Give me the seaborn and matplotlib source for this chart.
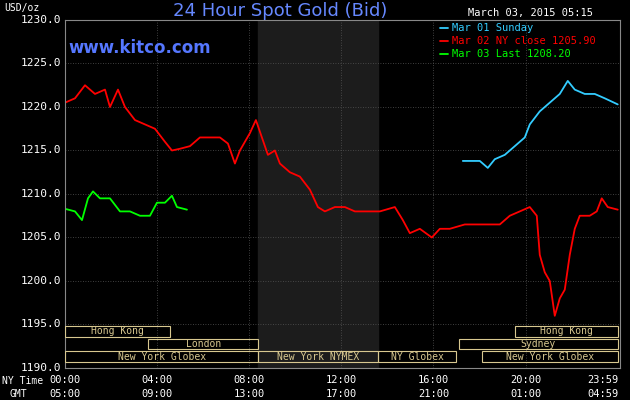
import matplotlib
matplotlib.use("Agg")
import matplotlib.pyplot as plt
import seaborn as sns
import numpy as np
import pandas as pd
from matplotlib.patches import Rectangle

red_x = [65,75,85,95,105,110,118,125,135,145,155,165,172,180,190,200,210,220,228,235,240,250,256,262,268,275,280,290,300,310,318,325,335,345,355,365,380,395,403,410,420,432,440,450,465,480,500,510,520,530,537,540,545,550,555,560,565,570,575,580,590,597,602,608,618]
red_y = [1220.5,1221,1222.5,1221.5,1222,1220,1222,1220,1218.5,1218,1217.5,1216,1215,1215.2,1215.5,1216.5,1216.5,1216.5,1215.8,1213.5,1215,1217,1218.5,1216.5,1214.5,1215,1213.5,1212.5,1212,1210.5,1208.5,1208,1208.5,1208.5,1208,1208,1208,1208.5,1207,1205.5,1206,1205,1206,1206,1206.5,1206.5,1206.5,1207.5,1208,1208.5,1207.5,1203,1201,1200,1196,1198,1199,1203,1206,1207.5,1207.5,1208,1209.5,1208.5,1208.2]
green_x = [65,75,82,88,93,100,110,120,130,140,150,157,165,172,177,187]
green_y = [1208.3,1208,1207,1209.5,1210.3,1209.5,1209.5,1208,1208,1207.5,1207.5,1209,1209,1209.8,1208.5,1208.2]
cyan_x = [463,480,488,495,505,515,525,530,540,550,560,568,575,585,595,605,618]
cyan_y = [1213.8,1213.8,1213,1214,1214.5,1215.5,1216.5,1218,1219.5,1220.5,1221.5,1223,1222,1221.5,1221.5,1221,1220.3]
y_ticks = [1190,1195,1200,1205,1210,1215,1220,1225,1230]
ny_labels = ["00:00","04:00","08:00","12:00","16:00","20:00","23:59"]
gmt_labels = ["05:00","09:00","13:00","17:00","21:00","01:00","04:59"]
tick_hours = [0,4,8,12,16,20,23.98]
sessions = [
    (0,0,4.55,"Hong Kong"),(0,19.55,24,"Hong Kong"),
    (1,3.6,8.4,"London"),(1,17.1,24,"Sydney"),
    (2,0,8.4,"New York Globex"),(2,8.4,13.6,"New York NYMEX"),(2,13.6,17.0,"NY Globex"),(2,18.1,24,"New York Globex"),
]

def h(xs): return [(x-65)/23.04 for x in xs]

sns.set_style("dark")
plt.rcParams['font.family'] = ['DejaVu Sans Mono']
fig = plt.figure(figsize=(6.3,4.0), dpi=100, facecolor='black')
ax = fig.add_axes([65/630, 32/400, 555/630, 348/400])
ax.set_facecolor('black')
ax.axvspan(8.4,13.6,color='#1c1c1c',zorder=0)
for t in tick_hours[:-1]:
    ax.axvline(t,color='#555555',lw=0.6,ls=(0,(1,2)),zorder=1)
for y in y_ticks:
    ax.axhline(y,color='#555555',lw=0.6,ls=(0,(1,2)),zorder=1)

df = pd.concat([
    pd.DataFrame({'h':h(cyan_x),'v':cyan_y,'s':'c'}),
    pd.DataFrame({'h':h(red_x),'v':red_y,'s':'r'}),
    pd.DataFrame({'h':h(green_x),'v':green_y,'s':'g'}),
])
sns.lineplot(data=df,x='h',y='v',hue='s',palette={'c':'#33ccff','r':'#ff0000','g':'#00ff00'},
             lw=1.3,ax=ax,legend=False,sort=False,estimator=None)
ax.set_xlim(0,24.1); ax.set_ylim(1190,1230)
ax.set_xlabel(''); ax.set_ylabel('')
ax.set_xticks([]); ax.set_yticks([])
for s in ax.spines.values():
    s.set_visible(True); s.set_color('#888888'); s.set_linewidth(0.8)

tc = '#d8c890'
for row,a,b,lab in sessions:
    y0 = 1194.2 - row*1.45
    ax.add_patch(Rectangle((a,y0-0.62),b-a,1.24,fill=False,ec=tc,lw=0.8,zorder=3))
    ax.text((a+b)/2,y0,lab,color=tc,fontsize=7,ha='center',va='center',zorder=4)

for y in y_ticks:
    ax.text(-0.15,y,f"{y:.1f}",color='white',fontsize=8,ha='right',va='center')
for i,(t,a,b) in enumerate(zip(tick_hours,ny_labels,gmt_labels)):
    ha = 'right' if i == len(tick_hours)-1 else 'center'
    tt = 24.05 if i == len(tick_hours)-1 else t
    ax.text(tt,1189.2,a,color='white',fontsize=7.5,ha=ha,va='top')
    ax.text(tt,1187.6,b,color='white',fontsize=7.5,ha=ha,va='top')
fig.text(2/630,1-381/400,"NY Time",color='white',fontsize=7,va='center')
fig.text(10/630,1-394/400,"GMT",color='white',fontsize=7,va='center')
fig.text(4/630,1-8/400,"USD/oz",color='white',fontsize=7,va='center')
fig.text(280/630,1-11/400,"24 Hour Spot Gold (Bid)",color='#6688ff',fontsize=13,ha='center',va='center',family='DejaVu Sans')
fig.text(68/630,1-48/400,"www.kitco.com",color='#5577ff',fontsize=12,weight='bold',va='center',family='DejaVu Sans')
fig.text(468/630,1-13/400,"March 03, 2015 05:15",color='white',fontsize=7.5,va='center')
for i,(c,l) in enumerate([('#33ccff','Mar 01 Sunday'),('#ff0000','Mar 02 NY close 1205.90'),('#00ff00','Mar 03 Last 1208.20')]):
    yy = 1-(28+i*13)/400
    fig.lines.append(plt.Line2D([440/630,448/630],[yy,yy],color=c,lw=1.3,transform=fig.transFigure))
    fig.text(452/630,yy,l,color=c,fontsize=7.5,va='center')
fig.savefig('out.png',dpi=100,facecolor='black')
